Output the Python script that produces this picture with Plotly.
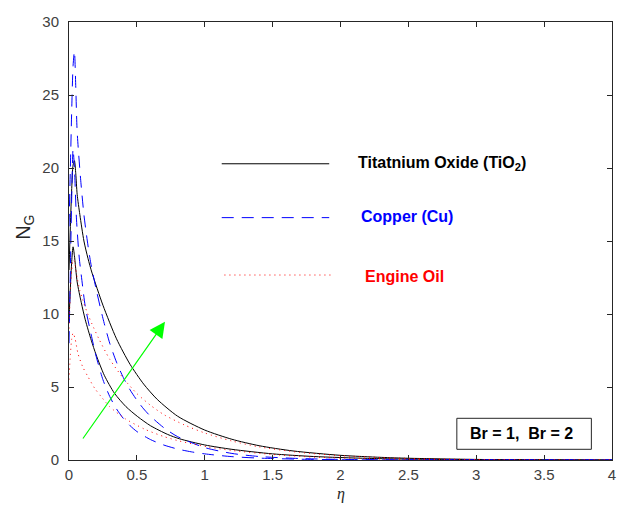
import plotly.graph_objects as go

# ---------------- data ----------------
eta_tio2_br2 = [0, .01, .02, .03, .04, .05, .06, .08, .11, .14, .17, .25, .35, .45, .55, .65, .8, 1.0, 1.2, 1.4, 1.65, 2.0, 2.3, 2.5, 3, 3.5, 4]
ng_tio2_br2 = [13, 16, 18.6, 20.2, 20.5, 19.6, 18.2, 16.8, 15.0, 13.8, 12.8, 10.6, 8.3, 6.55, 5.2, 4.15, 3.0, 2.05, 1.42, 0.98, 0.62, 0.32, 0.18, 0.12, 0.04, 0.01, 0]

eta_tio2_br1 = [0, .01, .02, .03, .04, .06, .09, .12, .164, .2, .26, .335, .42, .506, .6, .727, .815, 1.0, 1.2, 1.5, 1.8, 2.2, 2.5, 3, 3.5, 4]
ng_tio2_br1 = [9.5, 11.8, 13.6, 14.6, 14.0, 12.2, 10.8, 9.6, 8.2, 7.2, 5.8, 4.57, 3.65, 2.97, 2.35, 1.75, 1.45, 1.03, 0.73, 0.42, 0.24, 0.11, 0.06, 0.02, 0.01, 0]

eta_cu_br2 = [0, .01, .02, .03, .04, .05, .06, .085, .11, .135, .16, .2, .25, .3, .35, .4, .45, .5, .55, .6, .7, .8, 1.0, 1.2, 1.4, 1.7, 2.0, 2.5, 3, 4]
ng_cu_br2 = [16, 20, 24, 27, 28, 25.5, 22.5, 19.3, 16.8, 15.0, 13.5, 11.7, 9.7, 8.0, 6.7, 5.65, 4.8, 4.1, 3.5, 3.0, 2.2, 1.6, 0.85, 0.45, 0.24, 0.1, 0.04, 0.01, 0, 0]

eta_cu_br1 = [0, .01, .02, .03, .04, .055, .075, .095, .12, .17, .2, .25, .3, .35, .4, .45, .5, .6, .7, .8, .9, 1.0, 1.2, 1.4, 1.7, 2.0, 2.5, 3, 4]
ng_cu_br1 = [8, 13, 18, 21.3, 20, 16.5, 13.9, 12.3, 10.5, 8.3, 7.1, 5.5, 4.35, 3.5, 2.85, 2.35, 1.95, 1.4, 1.02, 0.75, 0.56, 0.42, 0.23, 0.13, 0.055, 0.02, 0, 0, 0]

eta_oil_br2 = [0, .01, .02, .03, .04, .06, .08, .1, .13, .17, .22, .3, .4, .5, .6, .7, .85, 1.0, 1.2, 1.4, 1.7, 2.0, 2.3, 2.5, 3, 3.5, 4]
ng_oil_br2 = [9, 11.5, 13.0, 13.7, 13.6, 12.5, 11.6, 11.0, 10.2, 9.3, 8.3, 6.9, 5.6, 4.55, 3.75, 3.1, 2.4, 1.85, 1.3, 0.9, 0.52, 0.3, 0.17, 0.11, 0.03, 0.01, 0]

eta_oil_br1 = [0, .01, .02, .03, .045, .066, .1, .14, .19, .237, .3, .41, .555, .7, .8, .9, 1.02, 1.2, 1.5, 1.8, 2.2, 2.5, 3, 3.5, 4]
ng_oil_br1 = [5.5, 7.2, 8.3, 8.7, 8.3, 7.3, 6.4, 5.7, 4.9, 4.34, 3.65, 2.85, 2.12, 1.6, 1.33, 1.12, 0.9, 0.65, 0.38, 0.2, 0.09, 0.05, 0.01, 0, 0]

legend_labels = ["Titatnium Oxide (TiO<sub>2</sub>)", "Copper (Cu)", "Engine Oil"]
box_label = "Br = 1,  Br = 2"

BLACK = "#000000"
BLUE = "#0000ff"
RED = "#ff0000"
DASH = "12px,8px"
DOT = "1px,4px"

series = [
    (eta_tio2_br2, ng_tio2_br2, BLACK, "solid"),
    (eta_tio2_br1, ng_tio2_br1, BLACK, "solid"),
    (eta_cu_br2, ng_cu_br2, BLUE, DASH),
    (eta_cu_br1, ng_cu_br1, BLUE, DASH),
    (eta_oil_br2, ng_oil_br2, RED, DOT),
    (eta_oil_br1, ng_oil_br1, RED, DOT),
]

fig = go.Figure()
for xs, ys, col, dash in series:
    fig.add_trace(go.Scatter(x=xs, y=ys, mode="lines",
                             line=dict(color=col, width=1, dash=dash, shape="spline", smoothing=0.7),
                             showlegend=False, hoverinfo="skip"))

FONT = "Liberation Sans, Arial, sans-serif"
axcommon = dict(showgrid=False, zeroline=False, showline=True, linecolor="#262626",
                linewidth=1, mirror="ticks", ticks="inside", ticklen=5,
                tickcolor="#262626", tickfont=dict(family=FONT, size=15, color="#404040"))

fig.update_layout(
    width=628, height=508,
    margin=dict(l=69, r=14, t=22, b=48),
    paper_bgcolor="white", plot_bgcolor="white",
    xaxis=dict(range=[0, 4], dtick=0.5, tick0=0, ticklabelstandoff=1, **axcommon),
    yaxis=dict(range=[0, 30], dtick=5, tick0=0, ticklabelstandoff=6, **axcommon),
)

# legend-like samples (inside the axes)
leg = [
    (1.125, 1.917, 20.29, BLACK, "solid", 2.114, 20.32),
    (1.125, 1.917, 16.60, BLUE, DASH, 2.136, 16.67),
    (1.145, 1.940, 12.67, RED, DOT, 2.165, 12.60),
]
for (x0, x1, yy, col, dash, tx, ty), lab in zip(leg, legend_labels):
    fig.add_shape(type="line", xref="x", yref="y", x0=x0, x1=x1, y0=yy, y1=yy,
                  line=dict(color=col, width=1, dash=dash))
    fig.add_annotation(x=tx, y=ty, xref="x", yref="y", text="<b>" + lab + "</b>",
                       showarrow=False, xanchor="left", yanchor="middle",
                       font=dict(family=FONT, size=16, color=col))

# Br box
fig.add_shape(type="rect", xref="x", yref="y", x0=2.857, x1=3.848, y0=0.733, y1=2.856,
              line=dict(color="#262626", width=1), fillcolor="white")
fig.add_annotation(x=3.33, y=1.8, xref="x", yref="y", text="<b>" + box_label + "</b>",
                   showarrow=False, font=dict(family=FONT, size=16, color="black"))

# green arrow
fig.add_annotation(x=0.707, y=9.47, ax=0.095, ay=1.37, xref="x", yref="y",
                   axref="x", ayref="y", text="", showarrow=True,
                   arrowhead=2, arrowsize=2.6, arrowwidth=1.2, arrowcolor="#00ff00")

# axis titles
fig.add_annotation(x=0, y=15.9, xref="paper", yref="y", xshift=-44, xanchor="center",
                   yanchor="middle", text="N<sub>G</sub>",
                   textangle=-90, showarrow=False,
                   font=dict(family=FONT, size=20, color="#262626"))
fig.add_annotation(x=2, y=0, xref="x", yref="paper", yshift=-34, yanchor="middle",
                   text="<i>η</i>",
                   showarrow=False, font=dict(family="Liberation Serif, serif", size=16, color="#262626"))

fig.write_html("out.html")
